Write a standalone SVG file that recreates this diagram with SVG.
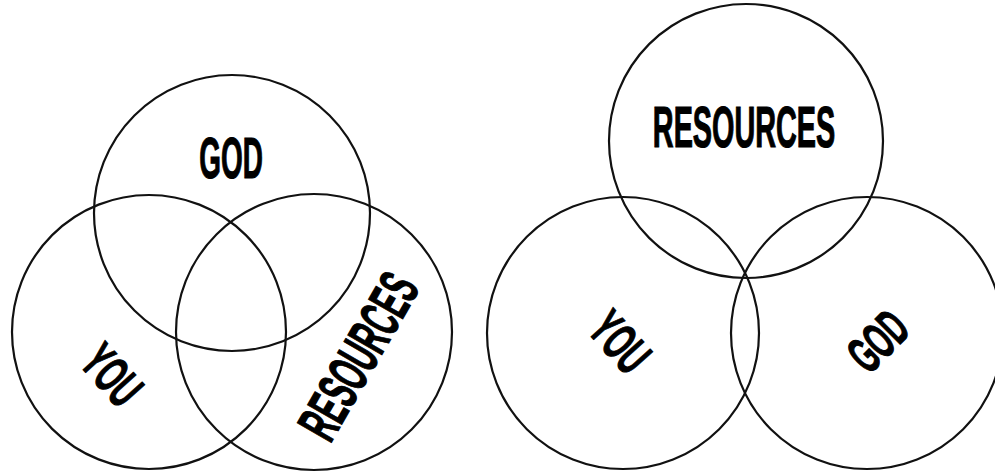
<svg xmlns="http://www.w3.org/2000/svg" width="995" height="473" viewBox="0 0 995 473">
<style>
.c{fill:none;stroke:#111;stroke-width:2.2}
.t{font-family:"Liberation Sans",Arial,sans-serif;font-weight:bold;fill:#000;stroke:#000;stroke-width:1.2;text-anchor:middle}
.big{font-size:57px}
.sm{font-size:52px}
</style>
<rect width="995" height="473" fill="#fff"/>
<g id="left-god"><circle class="c" cx="232" cy="213" r="138"/><text class="t big" transform="translate(231,178) scale(0.49,1)">GOD</text></g>
<g id="left-you"><circle class="c" cx="149" cy="332" r="137"/><text class="t sm" transform="translate(112,375) rotate(48) translate(0,18) scale(0.55,1)">YOU</text></g>
<g id="left-resources"><circle class="c" cx="314" cy="332" r="138"/><text class="t big" transform="translate(358,356) rotate(-60) translate(0,20) scale(0.5,1)">RESOURCES</text></g>
<g id="right-resources"><circle class="c" cx="746" cy="141" r="137"/><text class="t big" transform="translate(744,147) scale(0.505,1)">RESOURCES</text></g>
<g id="right-you"><circle class="c" cx="623" cy="333" r="136"/><text class="t sm" transform="translate(620,342) rotate(48) translate(0,18) scale(0.55,1)">YOU</text></g>
<g id="right-god"><circle class="c" cx="867" cy="333" r="136"/><text class="t sm" transform="translate(878,341) rotate(-45) translate(0,18) scale(0.52,1)">GOD</text></g>
<g id="connectors"/>
</svg>
